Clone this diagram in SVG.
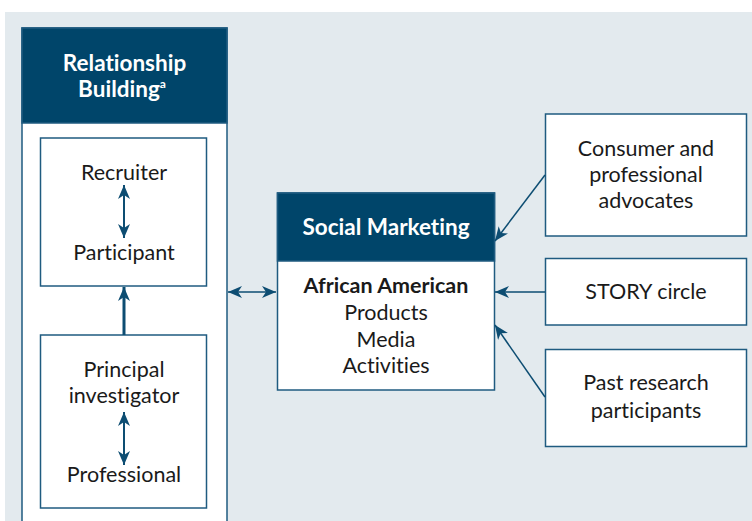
<svg xmlns="http://www.w3.org/2000/svg" width="752" height="521" viewBox="0 0 752 521">
<style>
.txt{font-family:Lato,"Open Sans","Liberation Sans",sans-serif;font-size:21.5px;fill:#1a1a1a;text-anchor:middle;font-variant-ligatures:none}
.hdr{font-family:Lato,"Open Sans","Liberation Sans",sans-serif;font-size:22.5px;font-weight:bold;fill:#ffffff;text-anchor:middle;font-variant-ligatures:none}
.bold{font-weight:bold}
.box{fill:#ffffff;stroke:#1f5b80;stroke-width:1.5}
.head{fill:#00456a;stroke:#1f5b80;stroke-width:1.5}
.conn{stroke:#0d4d72;fill:none}
</style>
<defs>
<marker id="ah" markerUnits="userSpaceOnUse" markerWidth="16" markerHeight="12" refX="14" refY="6" orient="auto-start-reverse" viewBox="0 0 16 12">
<path d="M0,0 L14,6 L0,12 L4,6 z" fill="#0d4d72"/>
</marker>
</defs>
<rect x="5" y="12" width="747" height="509" fill="#e3eaee"/>

<g id="relationship-building">
<rect x="22" y="28" width="205" height="500" class="box"/>
<rect x="22" y="28" width="205" height="95" class="head"/>
<text class="hdr" x="124.5" y="71">Relationship</text>
<text class="hdr" x="122" y="97">Building<tspan font-size="12" dy="-9">a</tspan></text>
</g>

<g id="recruiter-participant">
<rect x="40.5" y="138" width="166" height="148" class="box" stroke="#4f7f9c"/>
<text class="txt" x="124" y="180">Recruiter</text>
<text class="txt" x="124" y="260">Participant</text>
</g>

<g id="pi-professional">
<rect x="40.5" y="335" width="166" height="173" class="box" stroke="#4f7f9c"/>
<text class="txt" x="124" y="377">Principal</text>
<text class="txt" x="124" y="403">investigator</text>
<text class="txt" x="124" y="482">Professional</text>
</g>

<g id="social-marketing">
<rect x="277.5" y="193" width="217" height="197" class="box"/>
<rect x="277.5" y="193" width="217" height="68" class="head"/>
<text class="hdr" x="386" y="235">Social Marketing</text>
<text class="txt bold" x="386" y="293">African American</text>
<text class="txt" x="386" y="320">Products</text>
<text class="txt" x="386" y="347">Media</text>
<text class="txt" x="386" y="373">Activities</text>
</g>

<g id="advocates">
<rect x="545.5" y="114" width="201" height="122" class="box"/>
<text class="txt" x="646" y="156">Consumer and</text>
<text class="txt" x="646" y="182">professional</text>
<text class="txt" x="646" y="208">advocates</text>
</g>

<g id="story-circle">
<rect x="545.5" y="258.5" width="201" height="66.5" class="box"/>
<text class="txt" x="646" y="299">STORY circle</text>
</g>

<g id="past-research">
<rect x="545.5" y="349.5" width="201" height="97" class="box"/>
<text class="txt" x="646" y="390">Past research</text>
<text class="txt" x="646" y="418">participants</text>
</g>

<g id="connectors">
<line class="conn" x1="124" y1="185" x2="124" y2="238" stroke-width="2" marker-start="url(#ah)" marker-end="url(#ah)"/>
<line class="conn" x1="124" y1="412" x2="124" y2="465" stroke-width="2" marker-start="url(#ah)" marker-end="url(#ah)"/>
<line class="conn" x1="124" y1="335" x2="124" y2="287" stroke-width="3" marker-end="url(#ah)"/>
<line class="conn" x1="228" y1="292" x2="276" y2="292" stroke-width="1.5" marker-start="url(#ah)" marker-end="url(#ah)"/>
<line class="conn" x1="545" y1="175" x2="495" y2="241" stroke-width="1.5" marker-end="url(#ah)"/>
<line class="conn" x1="545" y1="292" x2="495" y2="292" stroke-width="1.5" marker-end="url(#ah)"/>
<line class="conn" x1="545" y1="397" x2="495" y2="325" stroke-width="1.5" marker-end="url(#ah)"/>
</g>
</svg>
